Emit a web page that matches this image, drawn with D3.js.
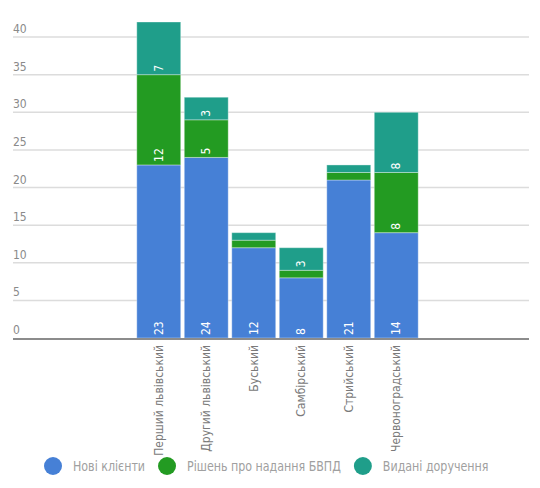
<!DOCTYPE html>
<html>
<head>
<meta charset="utf-8">
<script src="https://cdn.jsdelivr.net/npm/d3@7"></script>
<style>
  body { margin: 0; background: #fff; }
  svg { font-family: "DejaVu Sans Condensed", sans-serif; }
</style>
</head>
<body>
<div id="chart"></div>
<script>
// data
var categories = ["Перший львівський", "Другий львівський", "Буський", "Самбірський", "Стрийський", "Червоноградський"];
var newClients = [23, 24, 12, 8, 21, 14];
var decisions = [12, 5, 1, 1, 1, 8];
var orders = [7, 3, 1, 3, 1, 8];
var seriesNames = ["Нові клієнти", "Рішень про надання БВПД", "Видані доручення"];
var yTicks = [0, 5, 10, 15, 20, 25, 30, 35, 40];

var colors = ["#4680d6", "#239b22", "#1f9e8a"];

chart_width = 540
chart_height = 488

var svg = d3.select('#chart')
  .append('svg')
  .attr('width', chart_width)
  .attr('height', chart_height)

var rows = categories.map(function(c, i) {
  return { cat: c, s0: newClients[i], s1: decisions[i], s2: orders[i] };
});
var stacked = d3.stack().keys(["s0", "s1", "s2"])(rows);

// scales
x = d3.scaleBand()
  .domain(categories)
  .range([135, 420])
  .paddingInner(0.075)
  .paddingOuter(0.0375);

y = d3.scaleLinear()
  .domain([0, 42])
  .range([338, 22]);

// gridlines
svg.append('g').selectAll('line')
  .data(yTicks.filter(function(d) { return d > 0; }))
  .enter()
  .append('line')
  .attr('x1', 13)
  .attr('x2', 529)
  .attr('y1', function(d) { return y(d); })
  .attr('y2', function(d) { return y(d); })
  .attr('stroke', '#dcdcdc')
  .attr('stroke-width', 1.5);

// y labels
svg.append('g').selectAll('text')
  .data(yTicks)
  .enter()
  .append('text')
  .attr('x', 13)
  .attr('y', function(d) { return y(d) - 4; })
  .attr('fill', '#8a8a8a')
  .style('font-size', '12px')
  .text(function(d) { return d; });

// bars
var layers = svg.append('g').selectAll('g')
  .data(stacked)
  .enter()
  .append('g')
  .attr('fill', function(d, i) { return colors[i]; });

layers.selectAll('rect')
  .data(function(d) { return d; })
  .enter()
  .append('rect')
  .attr('x', function(d) { return x(d.data.cat); })
  .attr('y', function(d) { return y(d[1]); })
  .attr('width', x.bandwidth())
  .attr('height', function(d) { return y(d[0]) - y(d[1]); })
  .attr('stroke', 'rgba(255,255,255,0.35)')
  .attr('stroke-width', 1);

// value labels (skip small segments)
layers.selectAll('text')
  .data(function(d) { return d; })
  .enter()
  .filter(function(d) { return d[1] - d[0] >= 3; })
  .append('text')
  .attr('transform', function(d) {
    var cx = x(d.data.cat) + x.bandwidth() / 2 + 4;
    return 'translate(' + cx + ',' + (y(d[0]) - 3) + ') rotate(-90)';
  })
  .attr('fill', 'white')
  .style('font-size', '12px')
  .text(function(d) { return d[1] - d[0]; });

// baseline
svg.append('line')
  .attr('x1', 13)
  .attr('x2', 529)
  .attr('y1', y(0) + 1)
  .attr('y2', y(0) + 1)
  .attr('stroke', '#8c8c8c')
  .attr('stroke-width', 2);

// category labels
svg.append('g').selectAll('text')
  .data(categories)
  .enter()
  .append('text')
  .attr('transform', function(d) {
    return 'translate(' + (x(d) + x.bandwidth() / 2 + 4) + ',345) rotate(-90)';
  })
  .attr('text-anchor', 'end')
  .attr('fill', '#7a7a7a')
  .style('font-size', '12px')
  .text(function(d) { return d; });

// legend
var lx = 44;
var legend = svg.append('g');
seriesNames.forEach(function(name, i) {
  legend.append('circle')
    .attr('cx', lx + 9)
    .attr('cy', 466)
    .attr('r', 9)
    .attr('fill', colors[i]);
  var t = legend.append('text')
    .attr('transform', 'translate(' + (lx + 29) + ',471) scale(0.88,1)')
    .attr('fill', '#a0a0a0')
    .style('font-size', '14px')
    .text(name);
  lx = lx + 29 + t.node().getComputedTextLength() * 0.88 + 13;
});
</script>
</body>
</html>
